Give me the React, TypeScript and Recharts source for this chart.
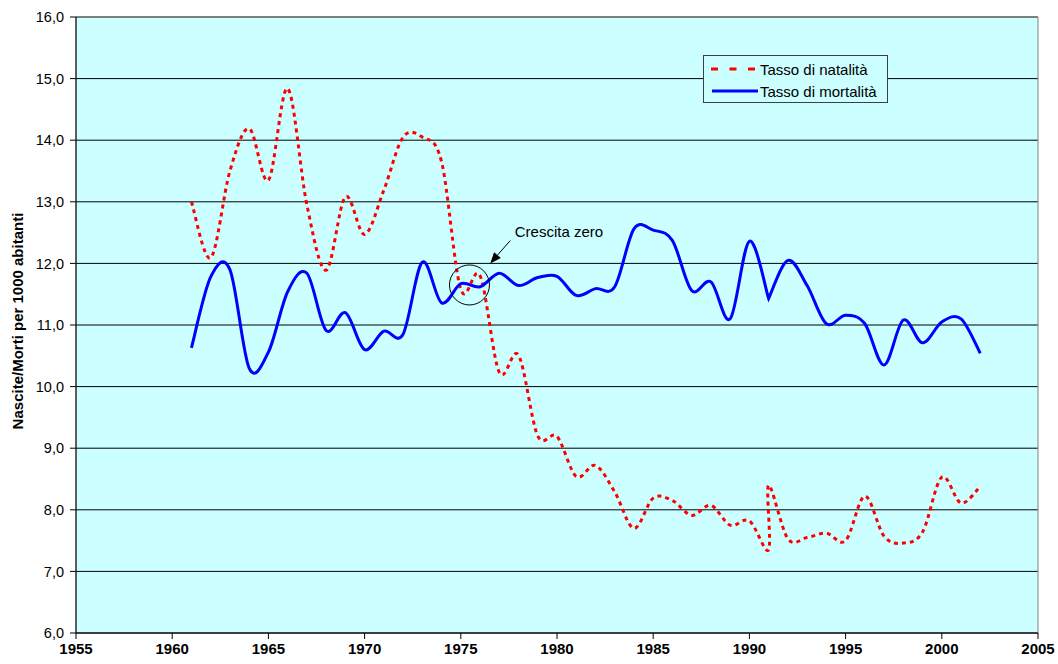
import { LineChart, Line, XAxis, YAxis, CartesianGrid, Legend, ReferenceDot, ReferenceLine, ReferenceArea } from "recharts";

// 1991 appears twice in the source series (two values for the same year)
const years = [
  1961, 1962, 1963, 1964, 1965, 1966, 1967, 1968, 1969, 1970,
  1971, 1972, 1973, 1974, 1975, 1976, 1977, 1978, 1979, 1980,
  1981, 1982, 1983, 1984, 1985, 1986, 1987, 1988, 1989, 1990,
  1991, 1991, 1992, 1993, 1994, 1995, 1996, 1997, 1998, 1999,
  2000, 2001, 2002,
];

const natalita = [
  13.0, 12.09, 13.5, 14.19, 13.35, 14.84, 12.95, 11.89, 13.08, 12.47,
  13.19, 14.05, 14.05, 13.65, 11.58, 11.8, 10.23, 10.51, 9.2, 9.19,
  8.54, 8.72, 8.29, 7.7, 8.19, 8.15, 7.91, 8.07, 7.75, 7.82,
  7.35, 8.4, 7.53, 7.55, 7.62, 7.5, 8.22, 7.57, 7.46, 7.64,
  8.53, 8.11, 8.38,
];

const mortalita = [
  10.63, 11.78, 11.9, 10.3, 10.56, 11.54, 11.84, 10.91, 11.2, 10.6,
  10.9, 10.85, 12.02, 11.36, 11.67, 11.62, 11.84, 11.64, 11.77, 11.79,
  11.48, 11.59, 11.62, 12.56, 12.54, 12.37, 11.56, 11.7, 11.1, 12.36,
  11.43, 11.43, 12.05, 11.64, 11.02, 11.16, 11.02, 10.35, 11.08, 10.71,
  11.05, 11.1, 10.54,
];

const xTicks = [1955, 1960, 1965, 1970, 1975, 1980, 1985, 1990, 1995, 2000, 2005];
const yTicks = [6, 7, 8, 9, 10, 11, 12, 13, 14, 15, 16];

const data = years.map((year, i) => ({ year, natalita: natalita[i], mortalita: mortalita[i] }));

const font = "'Liberation Sans', Arial, sans-serif";

// smoothed line like a spreadsheet "smoothed line" (bezier through every point)
function smoothCurve(context: any) {
  let pts: number[][] = [];
  return {
    areaStart() {},
    areaEnd() {},
    lineStart() {
      pts = [];
    },
    point(x: number, y: number) {
      pts.push([+x, +y]);
    },
    lineEnd() {
      if (!pts.length) return;
      context.moveTo(pts[0][0], pts[0][1]);
      for (let i = 0; i < pts.length - 1; i++) {
        const p0 = pts[i - 1] || pts[i];
        const p1 = pts[i];
        const p2 = pts[i + 1];
        const p3 = pts[i + 2] || p2;
        // repeated point: nothing to draw, leaves a sharp corner
        if (p1[0] === p2[0] && p1[1] === p2[1]) continue;
        context.bezierCurveTo(
          p1[0] + (p2[0] - p0[0]) / 6,
          p1[1] + (p2[1] - p0[1]) / 6,
          p2[0] - (p3[0] - p1[0]) / 6,
          p2[1] - (p3[1] - p1[1]) / 6,
          p2[0],
          p2[1]
        );
      }
    },
  };
}

const Arrow = (p: any) => {
  const { x1, y1, x2, y2 } = p;
  const ang = Math.atan2(y2 - y1, x2 - x1);
  const len = 11;
  const w = 4.5;
  const bx = x2 - len * Math.cos(ang);
  const by = y2 - len * Math.sin(ang);
  const pts = `${x2},${y2} ${bx - w * Math.sin(ang)},${by + w * Math.cos(ang)} ${bx + w * Math.sin(ang)},${by - w * Math.cos(ang)}`;
  return (
    <g>
      <line x1={x1} y1={y1} x2={bx} y2={by} stroke="#000" strokeWidth={1} />
      <polygon points={pts} fill="#000" />
    </g>
  );
};

const renderLegend = () => (
  <div
    style={{
      boxSizing: "border-box",
      width: 185,
      height: 48,
      border: "1px solid #404040",
      background: "#CCFFFF",
      fontFamily: font,
      fontSize: 15,
      color: "#000",
      padding: "2px 0 0 7px",
    }}
  >
    <div style={{ display: "flex", alignItems: "center", height: 22 }}>
      <svg width={49} height={10}>
        <line x1={0} y1={5} x2={47} y2={5} stroke="#FF0000" strokeWidth={3} strokeDasharray="7 11.5" />
      </svg>
      <span>Tasso di natalità</span>
    </div>
    <div style={{ display: "flex", alignItems: "center", height: 22 }}>
      <svg width={49} height={10}>
        <line x1={1} y1={5} x2={47} y2={5} stroke="#0000FF" strokeWidth={3} />
      </svg>
      <span>Tasso di mortalità</span>
    </div>
  </div>
);

const yLabel = () => (
  <text
    transform="translate(23,321) rotate(-90)"
    textAnchor="middle"
    fontFamily={font}
    fontSize={15}
    fontWeight="bold"
    fill="#000"
  >
    Nascite/Morti per 1000 abitanti
  </text>
);

export default function App() {
  return (
    <div style={{ position: "absolute", left: 0, top: 0, background: "#fff" }}>
      <LineChart width={1058} height={664} data={data} margin={{ top: 17, right: 20, bottom: 0, left: 0 }}>
        <CartesianGrid horizontal vertical={false} stroke="#000" fill="#CCFFFF" fillOpacity={1} />
        <ReferenceArea x1={1955} x2={2005} y1={6} y2={16} fill="none" stroke="#808080" />
        <XAxis
          dataKey="year"
          type="number"
          domain={[1955, 2005]}
          ticks={xTicks}
          allowDuplicatedCategory
          height={31}
          tickSize={6}
          tickMargin={4}
          stroke="#000"
          tick={{ fill: "#000", fontSize: 15, fontWeight: "bold", fontFamily: font }}
        />
        <YAxis
          type="number"
          domain={[6, 16]}
          ticks={yTicks}
          width={76}
          tickSize={6}
          tickMargin={6}
          stroke="#000"
          tickFormatter={(v: number) => v.toFixed(1).replace(".", ",")}
          tick={{ fill: "#000", fontSize: 14.5, fontFamily: font }}
          label={yLabel}
        />
        <Legend
          layout="horizontal"
          verticalAlign="middle"
          align="center"
          content={renderLegend}
          wrapperStyle={{ left: 703, top: 55, width: 185, height: 48 }}
        />
        <Line
          dataKey="natalita"
          name="Tasso di natalità"
          type={smoothCurve as any}
          stroke="#FF0000"
          strokeWidth={3}
          strokeDasharray="4 4"
          dot={false}
          isAnimationActive={false}
        />
        <Line
          dataKey="mortalita"
          name="Tasso di mortalità"
          type={smoothCurve as any}
          stroke="#0000FF"
          strokeWidth={3}
          dot={false}
          isAnimationActive={false}
        />
        <ReferenceDot x={1975.45} y={11.65} r={20} fill="none" stroke="#000" strokeWidth={1} />
        <ReferenceLine segment={[{ x: 1977.57, y: 12.37 }, { x: 1976.53, y: 12.0 }]} shape={Arrow} />
        <ReferenceDot
          x={1980.1}
          y={12.52}
          r={0}
          fill="none"
          stroke="none"
          label={{ value: "Crescita zero", position: "center", fill: "#000", fontSize: 15, fontFamily: font }}
        />
      </LineChart>
    </div>
  );
}
